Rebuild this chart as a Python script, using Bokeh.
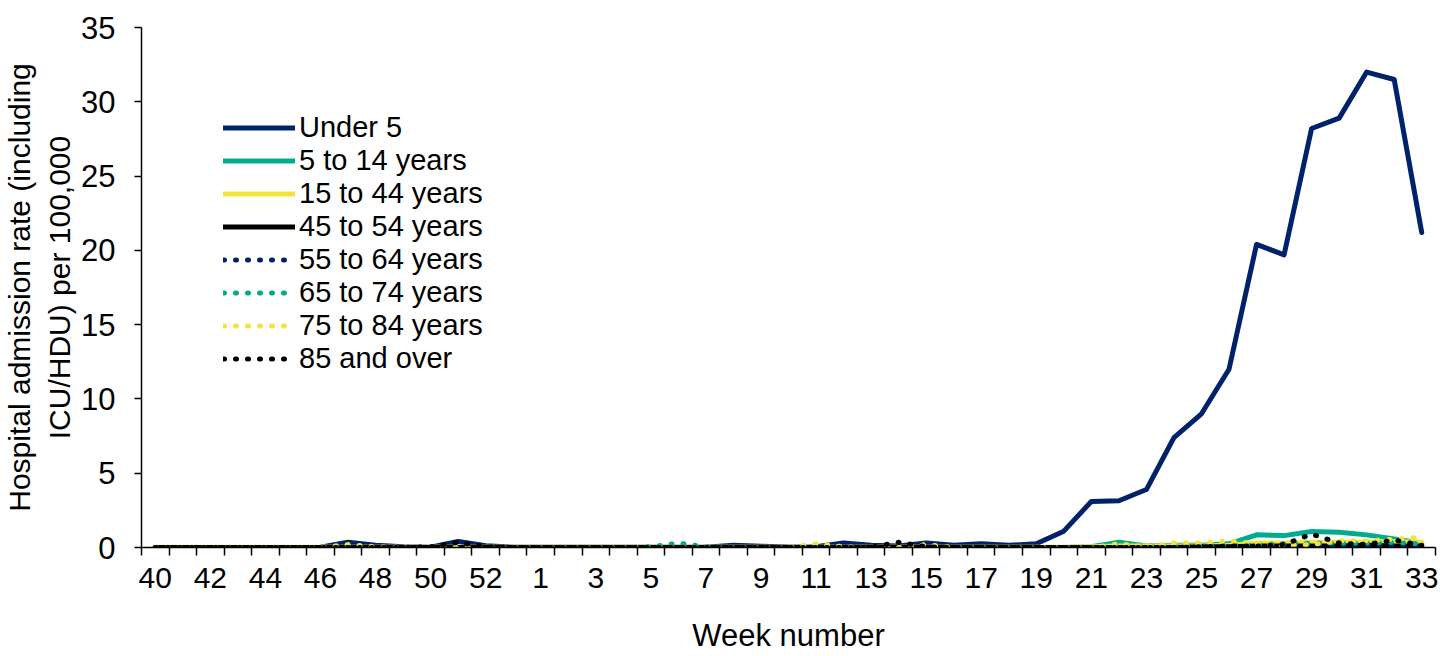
from bokeh.plotting import figure
from bokeh.models import FixedTicker, Legend, LegendItem
from bokeh.embed import file_html
from bokeh.resources import INLINE

weeks = ["40", "41", "42", "43", "44", "45", "46", "47", "48", "49", "50", "51", "52", "53",
         "1", "2", "3", "4", "5", "6", "7", "8", "9", "10", "11", "12", "13", "14", "15",
         "16", "17", "18", "19", "20", "21", "22", "23", "24", "25", "26", "27", "28",
         "29", "30", "31", "32", "33"]

# weeks 40-53
under_5 = [0, 0, 0, 0, 0, 0, 0.02, 0.35, 0.15, 0.05, 0.02, 0.4, 0.12, 0.02,
           # weeks 1-33
           0.02, 0.02, 0.02, 0.02, 0.02, 0.02, 0.02, 0.15, 0.08, 0.03, 0.05, 0.3, 0.15, 0.1,
           0.3, 0.15, 0.25, 0.15, 0.25, 1.1, 3.1, 3.15, 3.9, 7.4, 9.0, 12.0, 20.4, 19.7,
           28.2, 28.9, 32.0, 31.5, 21.2]
y5_14 = [0, 0, 0, 0, 0, 0, 0, 0, 0, 0, 0, 0, 0, 0,
         0, 0, 0, 0, 0, 0, 0, 0, 0, 0, 0, 0, 0, 0, 0, 0, 0, 0, 0, 0,
         0.05, 0.35, 0.1, 0.15, 0.15, 0.25, 0.85, 0.8, 1.08, 1.03, 0.85, 0.58, 0.3]
y15_44 = [0.02, 0.02, 0.02, 0.02, 0.02, 0.02, 0.02, 0.02, 0.02, 0.02, 0.02, 0.02, 0.02, 0.02,
          0.02, 0.02, 0.02, 0.02, 0.02, 0.02, 0.02, 0.02, 0.02, 0.02, 0.02, 0.02, 0.02, 0.02,
          0.02, 0.02, 0.02, 0.02, 0.02, 0.02,
          0.05, 0.1, 0.1, 0.1, 0.1, 0.15, 0.3, 0.3, 0.35, 0.35, 0.35, 0.4, 0.35]
y45_54 = [0, 0, 0, 0, 0, 0, 0, 0, 0, 0, 0, 0, 0, 0,
          0, 0, 0, 0, 0, 0, 0, 0, 0, 0, 0, 0, 0, 0, 0, 0, 0, 0, 0, 0, 0, 0, 0, 0,
          0.05, 0.05, 0.1, 0.1, 0.1, 0.1, 0.15, 0.1, 0.1]
y55_64 = [0, 0, 0, 0, 0, 0, 0, 0, 0, 0, 0, 0, 0, 0,
          0, 0, 0, 0, 0, 0, 0, 0, 0, 0, 0, 0, 0, 0, 0, 0, 0, 0, 0, 0, 0, 0, 0, 0, 0,
          0.05, 0.1, 0.1, 0.15, 0.15, 0.1, 0.15, 0.1]
y65_74 = [0, 0, 0, 0, 0, 0, 0, 0, 0, 0, 0, 0, 0, 0,
          0, 0, 0, 0, 0.05, 0.3, 0.05,
          0, 0, 0, 0, 0, 0, 0, 0, 0, 0, 0, 0, 0, 0,
          0.2, 0.1, 0.1, 0.1, 0.15, 0.2, 0.25, 0.3, 0.3, 0.3, 0.35, 0.25]
y75_84 = [0, 0, 0, 0, 0, 0, 0, 0.2, 0.05, 0, 0, 0, 0, 0,
          0, 0, 0, 0, 0, 0, 0, 0, 0, 0, 0.25, 0.05, 0, 0, 0.2,
          0, 0, 0, 0, 0, 0,
          0.25, 0.05, 0.3, 0.3, 0.45, 0.25, 0.1, 0.2, 0.45, 0.45, 0.55, 0.7]
y85_over = [0, 0, 0, 0, 0, 0, 0, 0, 0, 0, 0.05, 0.35, 0.05, 0,
            0, 0, 0, 0, 0, 0, 0, 0, 0, 0, 0, 0, 0.02, 0.35, 0.05,
            0, 0, 0, 0, 0, 0, 0, 0, 0,
            0.05, 0.1, 0.1, 0.2, 0.9, 0.3, 0.2, 0.5, 0.15]

labels = ["Under 5", "5 to 14 years", "15 to 44 years", "45 to 54 years",
          "55 to 64 years", "65 to 74 years", "75 to 84 years", "85 and over"]
x_title = "Week number"
y_title = "Hospital admission rate (including\nICU/HDU) per 100,000"

NAVY = "#00226B"
GREEN = "#00AB8E"
YELLOW = "#F2E43C"
BLACK = "#000000"

series = [
    (under_5, NAVY, "solid"),
    (y5_14, GREEN, "solid"),
    (y15_44, YELLOW, "solid"),
    (y45_54, BLACK, "solid"),
    (y55_64, NAVY, "dot"),
    (y65_74, GREEN, "dot"),
    (y75_84, YELLOW, "dot"),
    (y85_over, BLACK, "dot"),
]

x = list(range(len(weeks)))

p = figure(width=1438, height=656, output_backend="svg", toolbar_location=None,
           x_range=(-0.5, len(weeks) - 0.5), y_range=(0, 35),
           min_border_left=136, min_border_right=3, min_border_top=27, min_border_bottom=109)
p.outline_line_color = None
p.xgrid.grid_line_color = None
p.ygrid.grid_line_color = None
p.background_fill_color = "white"
p.border_fill_color = "white"

items = []
for (vals, col, style), lab in zip(series, labels):
    if style == "solid":
        r = p.line(x, vals, line_color=col, line_width=5, line_join="round", line_cap="round")
    else:
        r = p.line(x, vals, line_color=col, line_width=5, line_dash="1 11",
                   line_cap="round", line_join="round")
    items.append(LegendItem(label=lab, renderers=[r]))

legend = Legend(items=items, location=(82, 172), orientation="vertical",
                background_fill_alpha=0, border_line_color=None,
                label_text_font="Liberation Sans", label_text_font_size="29px",
                label_text_color="#000000",
                glyph_width=72, glyph_height=33, label_height=33, spacing=0,
                padding=0, margin=0, label_standoff=4)
p.add_layout(legend)

# x axis
tick_idx = list(range(0, len(weeks), 2))
p.xaxis.ticker = FixedTicker(ticks=tick_idx, minor_ticks=[i - 0.5 for i in range(len(weeks) + 1)])
p.xaxis.major_label_overrides = {i: weeks[i] for i in tick_idx}
p.xaxis.major_tick_in = 0
p.xaxis.major_tick_out = 0
p.xaxis.minor_tick_in = 0
p.xaxis.minor_tick_out = 8
p.xaxis.minor_tick_line_color = "black"
p.xaxis.minor_tick_line_width = 1.5
p.xaxis.axis_line_width = 1.5
p.xaxis.axis_line_color = "black"
p.xaxis.major_label_text_font = "Liberation Sans"
p.xaxis.major_label_text_font_size = "30px"
p.xaxis.major_label_text_color = "black"
p.xaxis.major_label_standoff = 12
p.xaxis.axis_label = x_title
p.xaxis.axis_label_text_font = "Liberation Sans"
p.xaxis.axis_label_text_font_size = "31px"
p.xaxis.axis_label_text_font_style = "normal"
p.xaxis.axis_label_text_color = "black"
p.xaxis.axis_label_standoff = 27

# y axis
p.yaxis.ticker = FixedTicker(ticks=[0, 5, 10, 15, 20, 25, 30, 35])
p.yaxis.major_tick_in = 0
p.yaxis.major_tick_out = 7
p.yaxis.minor_tick_out = 0
p.yaxis.minor_tick_in = 0
p.yaxis.major_tick_line_width = 1.5
p.yaxis.axis_line_width = 1.5
p.yaxis.axis_line_color = "black"
p.yaxis.major_label_text_font = "Liberation Sans"
p.yaxis.major_label_text_font_size = "31px"
p.yaxis.major_label_text_color = "black"
p.yaxis.major_label_standoff = 19
p.yaxis.axis_label = y_title
p.yaxis.axis_label_text_font = "Liberation Sans"
p.yaxis.axis_label_text_font_size = "30px"
p.yaxis.axis_label_text_font_style = "normal"
p.yaxis.axis_label_text_color = "black"
p.yaxis.axis_label_standoff = 2

open("out.html", "w").write(file_html(p, INLINE))
